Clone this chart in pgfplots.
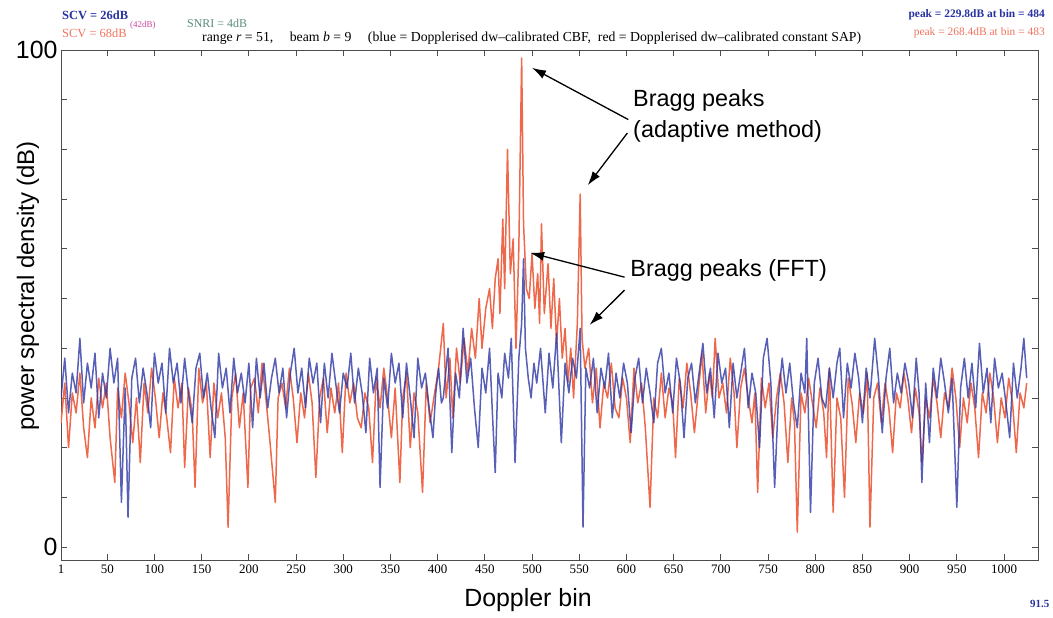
\documentclass[border=0pt]{standalone}
\usepackage{fontspec}
\setmainfont{Liberation Serif}
\newfontfamily\arial{Liberation Sans}
\usepackage{pgfplots}
\pgfplotsset{compat=1.18}
\usetikzlibrary{arrows.meta}

\definecolor{cbf}{RGB}{45,55,165}
\definecolor{sap}{RGB}{238,105,75}
\definecolor{hdrblue}{RGB}{40,50,160}
\definecolor{hdrred}{RGB}{240,115,95}
\definecolor{hdrmag}{RGB}{200,70,160}
\definecolor{hdrgreen}{RGB}{90,140,120}

\begin{document}
\begin{tikzpicture}
\useasboundingbox (-61bp,-58bp) rectangle (992bp,560bp);
\begin{axis}[
    scale only axis,
    width=977bp, height=510bp,
    xmin=1, xmax=1036,
    ymin=-2.6, ymax=100,
    xtick={1,50,100,...,1000},
    xticklabels={1,50,100,150,200,250,300,350,400,450,500,550,600,650,700,750,800,850,900,950,1000},
    ytick={0,10,...,100},
    yticklabels={0,,,,,,,,,,100},
    /pgf/number format/assume math mode=true,
    x tick label style={font=\fontsize{13}{13}\selectfont, yshift=-1bp},
    y tick label style={font=\arial\fontsize{25}{25}\selectfont},
    major tick length=6bp,
    axis line style={draw=black!70, line width=0.8bp},
    tick style={draw=black!70, line width=0.8bp},
]
% red = Dopplerised dw-calibrated constant SAP (adaptive)
\addplot[sap, line width=1.5bp, line join=round] coordinates {
(1,25) (5,33) (9,20) (13,31) (17,27) (21,35) (25,24) (29,18) (33,30) (37,24)
(41,34) (45,28) (49,33) (53,22) (58,13) (61,32) (65,26) (69,35) (73,29) (77,21)
(81,30) (85,17) (89,33) (93,27) (97,36) (101,30) (105,22) (109,31) (113,26) (117,19)
(121,34) (125,28) (129,33) (132,16) (136,32) (140,27) (143,12) (147,36) (151,29) (155,33)
(159,18) (163,33) (167,26) (171,31) (175,22) (178,4) (182,30) (186,35) (190,24) (194,31)
(199,12) (202,32) (206,34) (210,27) (214,37) (218,30) (222,22) (228,9) (231,30) (235,33)
(239,28) (243,36) (247,30) (251,21) (255,31) (259,26) (263,35) (267,29) (271,14) (275,30)
(279,34) (283,23) (287,32) (291,27) (295,33) (299,19) (303,35) (307,29) (311,33) (315,26)
(319,24) (323,31) (327,28) (331,17) (335,34) (339,28) (343,36) (347,30) (351,22) (355,32)
(360,13) (363,30) (367,35) (371,20) (375,31) (379,27) (384,11) (388,33) (392,25) (396,30)
(401,36) (406,45) (409,30) (413,38) (416,26) (420,40) (424,33) (428,42) (432,35) (436,44)
(440,38) (444,50) (447,40) (451,48) (455,52) (458,44) (461,54) (464,58) (466,47) (469,66)
(471,52) (474,80) (477,55) (480,62) (483,40) (486,60) (489,98.4) (491,65) (494,52) (497,50)
(500,59) (503,48) (506,55) (508,45) (510,65) (513,47) (517,57) (520,44) (523,54) (526,41)
(529,50) (532,38) (535,44) (538,33) (541,40) (544,30) (548,45) (551,71) (553,42) (556,36)
(560,40) (564,29) (568,36) (572,24) (576,33) (580,30) (584,37) (588,28) (592,26) (596,34)
(600,30) (604,21) (608,36) (612,29) (616,33) (620,24) (625,8) (629,30) (633,26) (637,35)
(641,26) (645,32) (649,29) (652,18) (656,34) (660,28) (664,37) (668,31) (672,23) (676,31)
(680,39) (684,27) (688,35) (691,30) (694,42) (698,30) (702,33) (706,27) (710,38) (714,31)
(717,20) (721,32) (725,36) (729,30) (733,25) (736,31) (739,11) (743,34) (747,28) (751,33)
(755,22) (759,30) (763,35) (767,29) (771,17) (775,30) (778,25) (781,3) (785,31) (789,27)
(793,34) (797,29) (801,24) (805,32) (809,27) (812,18) (815,36) (819,7) (823,30) (827,26)
(831,10) (835,34) (839,29) (843,21) (847,31) (851,27) (855,35) (858,4) (862,30) (866,33)
(870,25) (874,33) (878,28) (882,19) (886,31) (890,28) (894,35) (898,30) (902,23) (906,32)
(910,27) (913,17) (917,30) (921,26) (925,34) (929,29) (933,22) (937,31) (941,28) (945,36)
(949,30) (953,20) (957,30) (961,25) (965,33) (969,28) (973,18) (977,31) (981,27) (985,35)
(989,30) (993,21) (997,30) (1001,26) (1005,34) (1009,29) (1013,19) (1017,31) (1021,28) (1024,33)
};
% blue = Dopplerised dw-calibrated CBF (FFT)
\addplot[cbf, line width=1.5bp, line join=round, opacity=0.8] coordinates {
(1,30) (5,38) (9,27) (13,35) (17,31) (21,42) (25,29) (29,37) (33,32) (37,39)
(41,26) (45,35) (49,30) (53,40) (57,33) (61,38) (65,9) (69,32) (72,6) (76,34)
(80,38) (84,29) (88,36) (92,31) (96,24) (100,39) (104,33) (108,37) (112,27) (116,40)
(120,33) (124,37) (128,29) (132,38) (136,31) (140,25) (144,36) (148,39) (152,30) (156,35)
(160,28) (164,22) (168,39) (172,32) (176,36) (180,27) (184,38) (188,31) (192,35) (196,29)
(200,37) (204,24) (208,38) (212,30) (216,37) (220,28) (224,34) (228,38) (232,31) (236,36)
(240,26) (244,35) (248,40) (252,31) (256,36) (260,28) (264,38) (268,33) (272,37) (276,25)
(280,37) (284,30) (288,39) (292,33) (296,27) (300,35) (304,32) (308,39) (312,29) (316,36)
(320,31) (324,23) (328,38) (332,31) (336,36) (339,12) (343,34) (347,28) (351,39) (355,33)
(359,37) (363,26) (367,37) (371,30) (375,22) (379,38) (383,32) (387,35) (391,28) (395,22)
(398,31) (401,36) (404,29) (406,30) (411,40) (415,19) (419,35) (423,30) (427,44) (431,33)
(435,38) (439,28) (443,20) (447,36) (451,31) (455,40) (458,27) (461,15) (464,35) (468,30)
(471,39) (475,34) (478,42) (482,17) (486,38) (489,45) (491,58) (493,40) (496,34) (499,30)
(502,37) (505,33) (509,40) (514,27) (518,39) (522,32) (526,43) (531,21) (535,37) (539,31)
(543,38) (547,34) (551,44) (554,4) (557,36) (561,32) (565,38) (569,27) (573,36) (577,32)
(581,39) (585,26) (589,35) (593,30) (597,37) (601,33) (605,23) (609,34) (613,38) (617,29)
(621,36) (625,31) (629,25) (633,37) (637,40) (641,31) (645,35) (649,27) (653,38) (657,33)
(661,22) (665,34) (669,37) (673,29) (677,35) (681,41) (685,31) (689,36) (693,26) (697,39)
(701,33) (705,36) (709,24) (713,37) (717,30) (721,35) (725,40) (729,28) (733,35) (737,31)
(741,20) (745,38) (749,42) (753,33) (757,12) (761,30) (765,38) (769,31) (773,37) (777,29)
(781,24) (785,35) (789,31) (791,42) (795,7) (799,33) (803,38) (807,30) (811,28) (815,36)
(819,30) (823,37) (826,40) (830,26) (834,37) (838,32) (842,39) (846,34) (850,25) (854,36)
(858,30) (863,42) (867,34) (871,23) (875,34) (879,40) (883,29) (887,35) (891,31) (895,37)
(899,33) (903,26) (907,38) (910,31) (913,13) (917,33) (921,21) (925,36) (929,30) (933,38)
(937,33) (941,27) (945,34) (950,8) (954,32) (958,38) (962,30) (966,37) (970,28) (974,41)
(978,31) (982,36) (986,25) (990,38) (994,32) (998,35) (1002,29) (1006,22) (1010,37) (1014,30)
(1018,36) (1021,42) (1024,34)
};

% annotations
\node[anchor=north west, align=left, inner sep=0, font=\arial\fontsize{23.5}{31}\selectfont]
    at (axis cs:607,92) {Bragg peaks\\(adaptive method)};
\node[anchor=west, inner sep=0, font=\arial\fontsize{23.5}{28}\selectfont]
    at (axis cs:604,55.7) {Bragg peaks (FFT)};
\draw[line width=1.3bp, -{Latex[length=14bp,width=9bp]}] (axis cs:602,86) -- (axis cs:500,96.4);
\draw[line width=1.3bp, -{Latex[length=14bp,width=9bp]}] (axis cs:601,83.3) -- (axis cs:559,72.8);
\draw[line width=1.3bp, -{Latex[length=14bp,width=9bp]}] (axis cs:598,54.3) -- (axis cs:498,59.2);
\draw[line width=1.3bp, -{Latex[length=14bp,width=9bp]}] (axis cs:598,51.7) -- (axis cs:561,44.7);
\end{axis}

% axis labels
\node[rotate=90, font=\arial\fontsize{24}{24}\selectfont] at (-33bp,274bp) {power spectral density (dB)};
\node[font=\arial\fontsize{25}{25}\selectfont] at (467bp,-40bp) {Doppler bin};

% header
\node[anchor=west, inner sep=0, text=hdrblue, font=\fontsize{12.5}{12.5}\selectfont\bfseries] at (1bp,545bp) {SCV = 26dB};
\node[anchor=west, inner sep=0, text=hdrred, font=\fontsize{12.5}{12.5}\selectfont] at (1bp,527bp) {SCV = 68dB};
\node[anchor=west, inner sep=0, text=hdrmag, font=\fontsize{9}{9}\selectfont] at (69bp,535bp) {(42dB)};
\node[anchor=west, inner sep=0, text=hdrgreen, font=\fontsize{12}{12}\selectfont] at (126bp,537bp) {SNRI = 4dB};
\node[anchor=west, inner sep=0, font=\fontsize{13.8}{13.8}\selectfont] at (141bp,522bp)
    {range \textit{r} = 51,\hspace{1.2em}beam \textit{b} = 9\hspace{1.2em}(blue = Dopplerised dw--calibrated CBF,\ \ red = Dopplerised dw--calibrated constant SAP)};
\node[anchor=east, inner sep=0, text=hdrblue, font=\fontsize{11.5}{11.5}\selectfont\bfseries] at (984bp,545bp) {peak = 229.8dB at bin = 484};
\node[anchor=east, inner sep=0, text=hdrred, font=\fontsize{11.5}{11.5}\selectfont] at (984bp,527bp) {peak = 268.4dB at bin = 483};
\node[anchor=west, inner sep=0, text=hdrblue, font=\fontsize{11}{11}\selectfont\bfseries] at (969bp,-44bp) {91.5};
\end{tikzpicture}
\end{document}
